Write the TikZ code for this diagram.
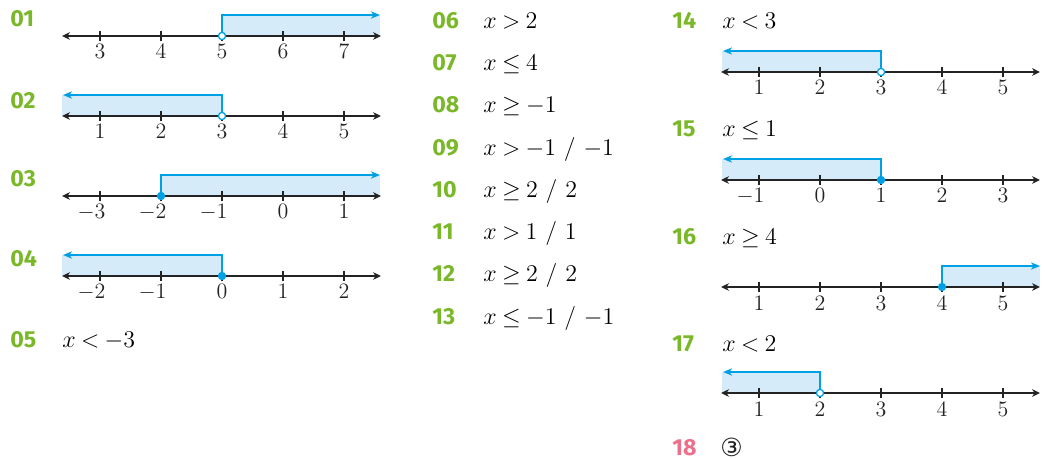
\documentclass[tikz,border=0pt]{standalone}
\usepackage{fontspec}
\newfontfamily\numfont{Fira Sans}
\newfontfamily\circfont{DejaVu Sans}
\usetikzlibrary{arrows.meta}
\definecolor{lblgreen}{RGB}{122,184,41}
\definecolor{lblpink}{RGB}{236,112,140}
\definecolor{rayblue}{RGB}{0,160,228}
\definecolor{rayfillc}{RGB}{214,235,250}
\definecolor{axisgray}{RGB}{35,35,35}
\newcommand\tightmath{\thickmuskip 4mu plus 2mu\relax\medmuskip 3mu\relax}
\tikzset{
  num/.style={anchor=base west, font=\numfont\bfseries\fontsize{11.6}{13}\selectfont, text=lblgreen, inner sep=0},
  expr/.style={anchor=base west, font=\fontsize{12}{14}\selectfont\tightmath, inner sep=0},
  ticklab/.style={anchor=base, font=\fontsize{11}{13}\selectfont, inner sep=0, text=axisgray},
  axisln/.style={line width=0.65pt, draw=axisgray, {Stealth[length=4pt,width=3.8pt,inset=1.3pt]}-{Stealth[length=4pt,width=3.8pt,inset=1.3pt]}},
  tickln/.style={line width=0.65pt, draw=axisgray},
  rayln/.style={line width=1pt, draw=rayblue, -{Stealth[length=4.5pt,width=3.6pt,inset=1.3pt]}},
  rayfill/.style={fill=rayfillc},
  opendot/.style={draw=rayblue, fill=white, line width=0.65pt},
  fulldot/.style={fill=rayblue},
}
\newcommand\axisline[3]{%
  \draw[axisln] (#1-38,#2) -- (#1+281,#2);
  \foreach \lab [count=\i from 0] in {#3} {
    \draw[tickln] (#1+61*\i,#2-5) -- (#1+61*\i,#2+5);
    \node[ticklab] at (#1+61*\i,#2+23) {\lab};
  }}
\newcommand\rayfillR[3]{\fill[rayfill] (#1,#2) rectangle (#3,#2-21);}
\newcommand\raylineR[3]{\draw[rayln] (#1,#2) -- (#1,#2-21) -- (#3,#2-21);}
\newcommand\opencirc[2]{\draw[opendot] (#1,#2) circle[radius=1.8pt];}
\newcommand\fullcirc[2]{\fill[fulldot] (#1,#2) circle[radius=2.1pt];}
\newcommand\mn{\llap{$-$}}
\begin{document}
\begin{tikzpicture}[x=0.5pt,y=-0.5pt]
\useasboundingbox (0,0) rectangle (1047,459);

% ---------- left column ----------
\node[num] (n01) at (10,26.7) {01};
\rayfillR{222}{36}{380}
\axisline{100}{36}{3,4,5,6,7}
\raylineR{222}{36}{380}
\opencirc{222}{36}

\node[num] (n02) at (10,109) {02};
\rayfillR{222}{116}{62}
\axisline{100}{116}{1,2,3,4,5}
\raylineR{222}{116}{63}
\opencirc{222}{116}

\node[num] (n03) at (10,187) {03};
\rayfillR{161}{196}{380}
\axisline{100}{196}{\mn 3,\mn 2,\mn 1,0,1}
\raylineR{161}{196}{380}
\fullcirc{161}{196}

\node[num] (n04) at (10,267) {04};
\rayfillR{222}{276}{62}
\axisline{100}{276}{\mn 2,\mn 1,0,1,2}
\raylineR{222}{276}{63}
\fullcirc{222}{276}

\node[num] (n05) at (10,347) {05};
\node[expr] (e05) at (62,347) {$x<-3$};

% ---------- middle column ----------
\node[num] (n06) at (432,28.3) {06};
\node[expr] (e06) at (483,28.3) {$x>2$};
\node[num] (n07) at (432,70.6) {07};
\node[expr] (e07) at (483,70.6) {$x\leq 4$};
\node[num] (n08) at (432,112.8) {08};
\node[expr] (e08) at (483,112.8) {$x\geq -1$};
\node[num] (n09) at (432,155.1) {09};
\node[expr] (e09) at (483,155.1) {$x>-1$ / $-1$};
\node[num] (n10) at (432,197.3) {10};
\node[expr] (e10) at (483,197.3) {$x\geq 2$ / $2$};
\node[num] (n11) at (432,239.6) {11};
\node[expr] (e11) at (483,239.6) {$x>1$ / $1$};
\node[num] (n12) at (432,281.8) {12};
\node[expr] (e12) at (483,281.8) {$x\geq 2$ / $2$};
\node[num] (n13) at (432,324.1) {13};
\node[expr] (e13) at (483,324.1) {$x\leq -1$ / $-1$};

% ---------- right column ----------
\node[num] (n14) at (672,28.3) {14};
\node[expr] (e14) at (722,28.3) {$x<3$};
\rayfillR{881}{72}{722}
\axisline{759}{72}{1,2,3,4,5}
\raylineR{881}{72}{723}
\opencirc{881}{72}

\node[num] (n15) at (672,136.7) {15};
\node[expr] (e15) at (722,136.7) {$x\leq 1$};
\rayfillR{881}{180}{722}
\axisline{759}{180}{\mn 1,0,1,2,3}
\raylineR{881}{180}{723}
\fullcirc{881}{180}

\node[num] (n16) at (672,245) {16};
\node[expr] (e16) at (722,245) {$x\geq 4$};
\rayfillR{942}{287}{1040}
\axisline{759}{287}{1,2,3,4,5}
\raylineR{942}{287}{1040}
\fullcirc{942}{287}

\node[num] (n17) at (672,351) {17};
\node[expr] (e17) at (722,351) {$x<2$};
\rayfillR{820}{393}{722}
\axisline{759}{393}{1,2,3,4,5}
\raylineR{820}{393}{723}
\opencirc{820}{393}

\node[num, text=lblpink] (n18) at (672,455.5) {18};
\node[anchor=west, inner sep=0, font=\circfont\fontsize{12.5}{14}\selectfont, text=axisgray] (e18) at (720,447) {③};
\end{tikzpicture}
\end{document}
